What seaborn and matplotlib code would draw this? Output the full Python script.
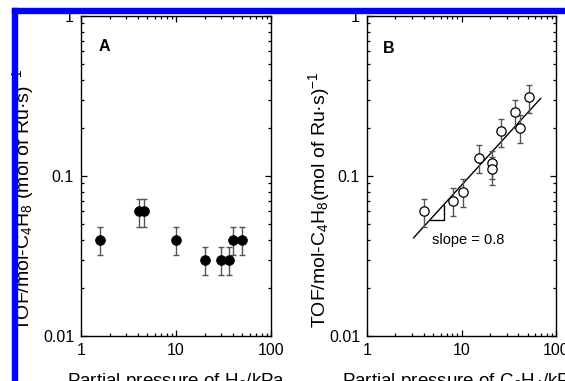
import matplotlib
matplotlib.use('Agg')
import matplotlib.pyplot as plt
import matplotlib.ticker as mticker
from matplotlib.patches import Rectangle
import seaborn as sns
import pandas as pd

# ---- data ----
h2_pressure = [1.6, 4.1, 4.6, 10, 20, 30, 36, 40, 50]
tof_a = [0.04, 0.06, 0.06, 0.04, 0.03, 0.03, 0.03, 0.04, 0.04]
err_a = [0.008, 0.012, 0.012, 0.008, 0.006, 0.006, 0.006, 0.008, 0.008]

c2h4_pressure = [4.0, 8.2, 10.3, 15.5, 20.9, 20.9, 26, 36.5, 42, 52]
tof_b = [0.06, 0.07, 0.08, 0.13, 0.12, 0.11, 0.19, 0.25, 0.20, 0.31]
err_b = [0.012, 0.014, 0.016, 0.026, 0.024, 0.022, 0.038, 0.05, 0.04, 0.062]

fit_x = [3.1, 69]
fit_y = [0.041, 0.306]
tri_x = [4.65, 6.5, 6.5]
tri_y = [0.053, 0.053, 0.066]

x_ticks = [1, 10, 100]
y_ticks = [0.01, 0.1, 1]

sns.set_style("ticks")
plt.rcParams['font.family'] = ['Liberation Sans', 'DejaVu Sans']
plt.rcParams['mathtext.fontset'] = 'custom'
plt.rcParams['mathtext.rm'] = 'Liberation Sans'
plt.rcParams['mathtext.it'] = 'Liberation Sans:italic'
plt.rcParams['mathtext.bf'] = 'Liberation Sans:bold'
for k in ['text.color', 'axes.labelcolor', 'xtick.color', 'ytick.color',
          'axes.edgecolor']:
    plt.rcParams[k] = 'black'

df_a = pd.DataFrame({'p': h2_pressure, 'tof': tof_a, 'err': err_a})
df_b = pd.DataFrame({'p': c2h4_pressure, 'tof': tof_b, 'err': err_b})
df_fit = pd.DataFrame({'x': fit_x, 'y': fit_y})

fig = plt.figure(figsize=(5.65, 3.81), dpi=100)
ax_a = fig.add_axes([81/565, 45/381, 190/565, 320/381])
ax_b = fig.add_axes([367/565, 45/381, 189/565, 320/381])

FS = 11.5
XL = 13.5
YL = 14

def style(ax):
    ax.set_xscale('log')
    ax.set_yscale('log')
    ax.set_xlim(1, 100)
    ax.set_ylim(0.01, 1)
    ax.xaxis.set_major_locator(mticker.FixedLocator(x_ticks))
    ax.yaxis.set_major_locator(mticker.FixedLocator(y_ticks))
    fmt = mticker.FuncFormatter(lambda v, _: f'{v:g}')
    ax.xaxis.set_major_formatter(fmt)
    ax.yaxis.set_major_formatter(fmt)
    ax.xaxis.set_minor_locator(mticker.LogLocator(base=10, subs=range(2, 10)))
    ax.yaxis.set_minor_locator(mticker.LogLocator(base=10, subs=range(2, 10)))
    ax.xaxis.set_minor_formatter(mticker.NullFormatter())
    ax.yaxis.set_minor_formatter(mticker.NullFormatter())
    ax.tick_params(which='both', direction='in', top=True, right=True,
                   labelsize=FS, color='black', labelcolor='black', width=0.9)
    ax.tick_params(which='major', length=4, pad=5)
    ax.tick_params(which='minor', length=2.5)
    for s in ax.spines.values():
        s.set_visible(True)
        s.set_color('black')
        s.set_linewidth(1.0)

# Panel A
ax_a.errorbar(df_a['p'], df_a['tof'], yerr=df_a['err'], fmt='none',
              ecolor='#555555', elinewidth=1, capsize=2.5, capthick=1, zorder=2)
sns.scatterplot(data=df_a, x='p', y='tof', ax=ax_a, color='black', s=50,
                edgecolor='black', linewidth=0.5, zorder=3, legend=False)
style(ax_a)
ax_a.set_xlabel('Partial pressure of H$_2$/kPa', fontsize=XL)
ax_a.set_ylabel('TOF/mol-C$_4$H$_8$ (mol of Ru·s)$^{-1}$', fontsize=YL)
ax_a.yaxis.set_label_coords(-0.237, 0.425)
ax_a.xaxis.set_label_coords(0.5, -0.11)
ax_a.text(0.09, 0.89, 'A', transform=ax_a.transAxes, fontsize=FS,
          fontweight='bold', ha='left', va='baseline')

# Panel B
sns.lineplot(data=df_fit, x='x', y='y', ax=ax_b, color='black', linewidth=1,
             zorder=2)
ax_b.plot(tri_x, tri_y, color='black', linewidth=1, zorder=2)
ax_b.errorbar(df_b['p'], df_b['tof'], yerr=df_b['err'], fmt='none',
              ecolor='#555555', elinewidth=1, capsize=2.5, capthick=1, zorder=2)
sns.scatterplot(data=df_b, x='p', y='tof', ax=ax_b, color='white', s=45,
                edgecolor='black', linewidth=0.9, zorder=3, legend=False)
style(ax_b)
ax_b.set_xlabel('Partial pressure of C$_2$H$_4$/kPa', fontsize=XL)
ax_b.set_ylabel('TOF/mol-C$_4$H$_8$(mol of Ru·s)$^{-1}$', fontsize=YL)
ax_b.yaxis.set_label_coords(-0.185, 0.425)
ax_b.xaxis.set_label_coords(0.5, -0.11)
ax_b.text(0.085, 0.885, 'B', transform=ax_b.transAxes, fontsize=FS,
          fontweight='bold', ha='left', va='baseline')
ax_b.text(4.9, 0.040, 'slope = 0.8', fontsize=10.5, ha='left', va='center')

# Blue frame from the screenshot
fig.patches.append(Rectangle((12/565, (381-13)/381), 1 - 12/565, 5/381,
                             transform=fig.transFigure, color='#0000ff',
                             zorder=10))
fig.patches.append(Rectangle((12/565, 0), 5/565, (381-8)/381,
                             transform=fig.transFigure, color='#0000ff',
                             zorder=10))

fig.savefig('out.png', dpi=100)
